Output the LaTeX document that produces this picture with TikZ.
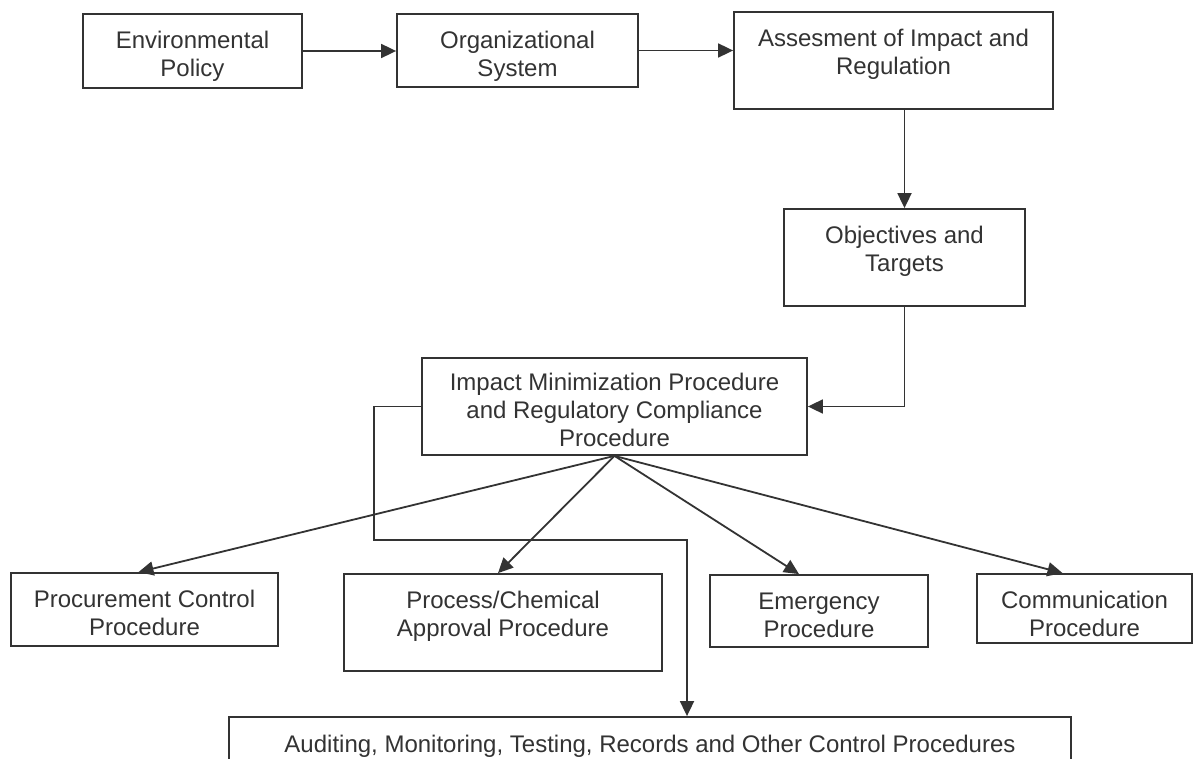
\documentclass[tikz,border=0pt]{standalone}
\usepackage{fontspec}
\setmainfont{Liberation Sans}
\usetikzlibrary{arrows.meta,fit}
\definecolor{ink}{HTML}{333333}
\begin{document}
\begin{tikzpicture}[x=1pt,y=-1pt,
  box/.style={draw=ink, line width=1.8pt, rectangle, inner sep=0pt},
  lbl/.style={text=ink, font=\fontsize{24}{28}\selectfont, align=center, anchor=north, inner sep=0pt},
  conn/.style={draw=ink, line width=1.8pt},
  arr/.style={conn, -{Triangle[length=15pt,width=14pt]}}]
\useasboundingbox (0,0) rectangle (1197,759);
\clip (0,0) rectangle (1197,759);
\fill[white] (0,0) rectangle (1197,759);

% boxes
\node[box, fit={(83,14) (302,88)}] (ep) {};
\node[box, fit={(397,14) (638,87)}] (os) {};
\node[box, fit={(734,12) (1053,109)}] (air) {};
\node[box, fit={(784,209) (1025,306)}] (ot) {};
\node[box, fit={(422,358) (807,455)}] (im) {};
\node[box, fit={(11,573) (278,646)}] (proc) {};
\node[box, fit={(344,574) (662,671)}] (pca) {};
\node[box, fit={(710,575) (928,647)}] (em) {};
\node[box, fit={(977,574) (1192,643)}] (com) {};
\node[box, fit={(229,717) (1071,820)}] (aud) {};

% labels
\node[lbl] (ept) at ([yshift=-16pt]ep.north) {\strut Environmental\\Policy};
\node[lbl] (ost) at ([yshift=-16pt]os.north) {\strut Organizational\\System};
\node[lbl] (airt) at ([yshift=-16pt]air.north) {\strut Assesment of Impact and\\Regulation};
\node[lbl] (ott) at ([yshift=-16pt]ot.north) {\strut Objectives and\\Targets};
\node[lbl] (imt) at ([yshift=-14pt]im.north) {\strut Impact Minimization Procedure\\and Regulatory Compliance\\Procedure};
\node[lbl] (proct) at ([yshift=-16pt]proc.north) {\strut Procurement Control\\Procedure};
\node[lbl] (pcat) at ([yshift=-16pt]pca.north) {\strut Process/Chemical\\Approval Procedure};
\node[lbl] (emt) at ([yshift=-16pt]em.north) {\strut Emergency\\Procedure};
\node[lbl] (comt) at ([yshift=-16pt]com.north) {\strut Communication\\Procedure};
\node[lbl] (audt) at ([yshift=-17pt]aud.north) {\strut Auditing, Monitoring, Testing, Records and Other Control Procedures};

% connectors
\draw[arr] (ep.east) -- (ep.east -| os.west);
\draw[arr] (os.east) -- (os.east -| air.west);
\draw[arr] (ot.north |- air.south) -- (ot.north);
\draw[arr] (ot.south) |- (im.east);
\draw[arr] (im.south) -- ([xshift=-6pt]proc.north);
\draw[arr] (im.south) -- ([xshift=-5pt]pca.north);
\draw[arr] (im.south) -- ([xshift=-20pt]em.north);
\draw[arr] (im.south) -- ([xshift=-22pt]com.north);
\coordinate (k1) at (374,540);
\coordinate (k2) at (687,540);
\draw[arr] (im.west) -| (k1) -- (k2) -- (k2 |- aud.north);
\end{tikzpicture}
\end{document}
